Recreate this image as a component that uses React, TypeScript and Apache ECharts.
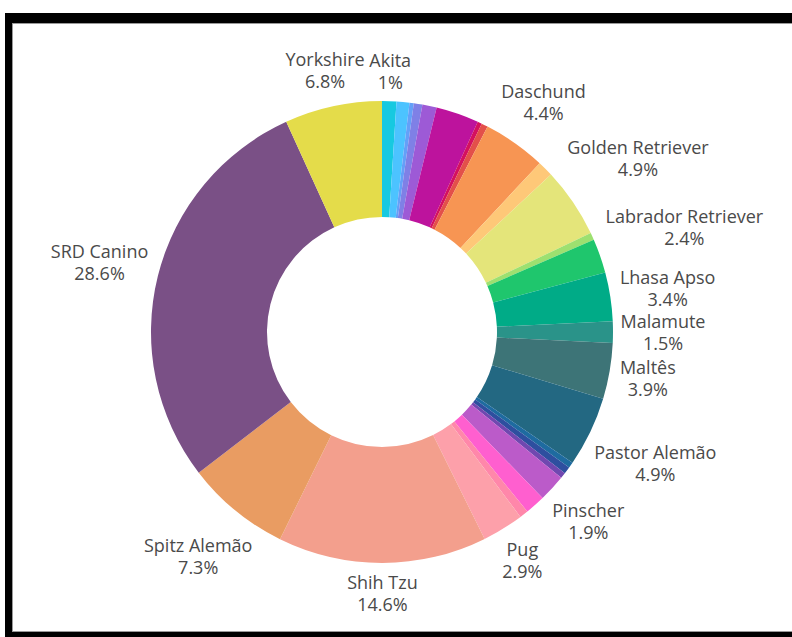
import React, { useEffect, useRef } from "react";
import * as echarts from "echarts";

// Slices in clockwise order starting at 12 o'clock
const breeds = [
  "Akita", "Outros 1", "Outros 2", "Outros 3", "Outros 4", "Outros 5", "Outros 6", "Outros 7",
  "Daschund", "Outros 8", "Golden Retriever", "Outros 9", "Labrador Retriever", "Lhasa Apso",
  "Malamute", "Maltês", "Pastor Alemão", "Outros 10", "Outros 11", "Outros 12", "Pinscher",
  "Outros 13", "Outros 14", "Pug", "Shih Tzu", "Spitz Alemão", "SRD Canino", "Yorkshire",
];
const percents = [
  1.0, 0.9, 0.3, 0.6, 1.0, 3.0, 0.3, 0.45,
  4.4, 1.1, 4.9, 0.5, 2.4, 3.4,
  1.5, 3.9, 4.9, 0.4, 0.5, 0.4, 1.9,
  1.4, 0.6, 2.9, 14.6, 7.3, 28.6, 6.8,
];
const colors = [
  "#17c9e0", "#4cc3ff", "#64a0f8", "#7f80e6", "#9d5ad6", "#bd139d", "#d4115f", "#e3504a",
  "#f79553", "#fec878", "#e4e57a", "#9de070", "#1fc66d", "#00ab87",
  "#2a9389", "#3d7477", "#236882", "#1e6ba0", "#2e4f9f", "#7048b0", "#bb5bc9",
  "#ff5fcf", "#ff87aa", "#fda0aa", "#f39f8d", "#e99c62", "#7a5086", "#e4dc4a",
];
const labelled = [
  "Akita", "Daschund", "Golden Retriever", "Labrador Retriever", "Lhasa Apso", "Malamute",
  "Maltês", "Pastor Alemão", "Pinscher", "Pug", "Shih Tzu", "Spitz Alemão", "SRD Canino", "Yorkshire",
];

export default function App() {
  const ref = useRef<HTMLDivElement>(null);
  useEffect(() => {
    const chart = echarts.init(ref.current!, null, { renderer: "svg" });
    const total = percents.reduce((a, b) => a + b, 0);
    const mids: number[] = [];
    let acc = 0;
    percents.forEach((v) => {
      mids.push(((acc + v / 2) / total) * 2 * Math.PI);
      acc += v;
    });
    const CX = 382, CY = 332, R_OUT = 231, R_IN = 115, GAP = 7.5;
    chart.setOption({
      animation: false,
      series: [
        {
          type: "pie",
          center: [CX, CY],
          radius: [R_IN, R_OUT],
          startAngle: 90,
          clockwise: true,
          avoidLabelOverlap: false,
          emphasis: { disabled: true },
          label: {
            show: true,
            position: "outside",
            formatter: (p: any) => `${p.name}\n${p.value}%`,
            color: "#4a4a4a",
            fontFamily: '"Open Sans", sans-serif',
            fontSize: 18,
            lineHeight: 22,
            align: "center",
          },
          labelLine: { show: false },
          labelLayout: (params: any) => {
            const r = params.labelRect;
            if (!r) return {};
            const a = mids[params.dataIndex];
            const dx = Math.sin(a), dy = -Math.cos(a);
            const d = GAP + Math.abs(dx) * r.width / 2 + Math.abs(dy) * r.height / 2;
            return {
              x: CX + dx * (R_OUT + d),
              y: CY + dy * (R_OUT + d),
              align: "center",
              verticalAlign: "middle",
            };
          },
          data: breeds.map((b, i) => ({
            name: b,
            value: percents[i],
            itemStyle: { color: colors[i] },
            label: { show: labelled.includes(b) },
          })),
        },
      ],
    });
    return () => chart.dispose();
  }, []);
  return (
    <div style={{ position: "fixed", left: 0, top: 0, width: 792, height: 637, background: "#fff", overflow: "hidden" }}>
      <div style={{ position: "absolute", left: 5, top: 13, width: 800, height: 640, background: "#000" }} />
      <div
        style={{
          position: "absolute", left: 12, top: 23, width: 800, height: 607, background: "#fff",
          borderTop: "1px solid #999", borderBottom: "1px solid #999", borderLeft: "1px solid #999",
        }}
      />
      <div ref={ref} style={{ position: "absolute", left: 0, top: 0, width: 792, height: 637 }} />
    </div>
  );
}
